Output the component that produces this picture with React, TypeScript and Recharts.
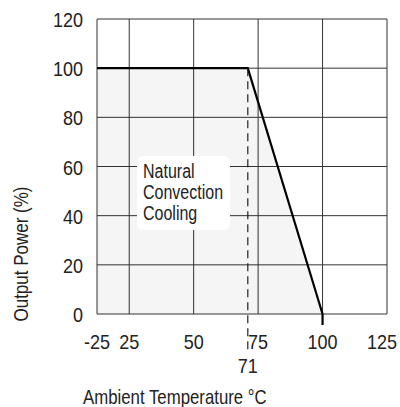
import {
  ComposedChart,
  Area,
  XAxis,
  YAxis,
  CartesianGrid,
  ReferenceLine,
} from 'recharts';

// derating curve: ambient temperature (°C) vs output power (%)
const temps = [-25, 71, 100];
const power = [100, 100, 0];
const xTicks = [-25, 25, 50, 75, 100, 125];
const yTicks = [0, 20, 40, 60, 80, 100, 120];
const kneeTicks = [71];

// the axis is broken: -25 sits half a step left of 25
const BREAK_POS = 12.5;
const axisPos = (t: number) => (t < 25 ? BREAK_POS : t);

const data = temps.map((t, i) => ({ x: axisPos(t), p: power[i] }));

const FONT = '"Liberation Sans", Arial, sans-serif';
const INK = '#222';

// no condensed face installed, so squeeze the regular one
function NarrowText({ x, y, size = 20, squeeze = 0.9, anchor = 'start', rotate = 0, children }: any) {
  return (
    <g transform={`translate(${x},${y}) rotate(${rotate}) scale(${squeeze},1)`}>
      <text x={0} y={0} textAnchor={anchor} fontSize={size} fill={INK} fontFamily={FONT}>
        {children}
      </text>
    </g>
  );
}

function XTick({ x, y, payload }: any) {
  const label = payload.value === BREAK_POS ? '-25' : String(payload.value);
  // last label is pulled in so it stays inside the page
  const last = payload.value === xTicks[xTicks.length - 1];
  return (
    <NarrowText x={last ? x + 10 : x} y={y + 27} anchor={last ? 'end' : 'middle'}>
      {label}
    </NarrowText>
  );
}

function KneeTick({ x, y, payload }: any) {
  return (
    <NarrowText x={x} y={y + 11} anchor="middle">
      {payload.value}
    </NarrowText>
  );
}

function YTick({ x, y, payload }: any) {
  return (
    <NarrowText x={x - 6} y={y + 8} anchor="end">
      {payload.value}
    </NarrowText>
  );
}

function App() {
  return (
    <div style={{ position: 'absolute', left: 0, top: 0, width: 400, height: 407 }}>
      <ComposedChart
        width={400}
        height={407}
        data={data}
        margin={{ top: 19, right: 13, bottom: 0, left: 0 }}
      >
        <CartesianGrid stroke="#333" strokeWidth={1} />
        <XAxis
          dataKey="x"
          type="number"
          domain={[BREAK_POS, 125]}
          ticks={xTicks.map(axisPos)}
          tick={<XTick />}
          tickLine={false}
          axisLine={false}
          height={40}
        />
        <XAxis
          xAxisId="knee"
          dataKey="x"
          type="number"
          domain={[BREAK_POS, 125]}
          allowDataOverflow
          ticks={kneeTicks}
          tick={<KneeTick />}
          tickLine={false}
          axisLine={false}
          height={53}
          label={{
            content: ({ viewBox }: any) => (
              <NarrowText x={viewBox.x - 14} y={viewBox.y + 50} size={20} squeeze={0.84}>
                Ambient Temperature °C
              </NarrowText>
            ),
          }}
        />
        <YAxis
          type="number"
          domain={[0, 120]}
          ticks={yTicks}
          tick={<YTick />}
          tickLine={false}
          axisLine={false}
          width={97}
          label={{
            content: () => (
              <NarrowText x={28} y={254} size={20} squeeze={0.85} rotate={-90} anchor="middle">
                Output Power (%)
              </NarrowText>
            ),
          }}
        />
        <Area
          dataKey="p"
          type="linear"
          stroke="#000"
          strokeWidth={2.2}
          fill="#000"
          fillOpacity={0.04}
          dot={false}
          activeDot={false}
          isAnimationActive={false}
        />
        <ReferenceLine
          segment={[{ x: 71, y: 100 }, { x: 71, y: -15.5 }]}
          stroke="#222"
          strokeWidth={1.2}
          strokeDasharray="8 5"
          ifOverflow="visible"
        />
        <ReferenceLine
          segment={[{ x: 100, y: 0 }, { x: 100, y: -4.5 }]}
          stroke="#000"
          strokeWidth={2.2}
          ifOverflow="visible"
        />
      </ComposedChart>
      <div
        style={{
          position: 'absolute',
          left: 137,
          top: 156,
          width: 93,
          height: 74,
          boxSizing: 'border-box',
          padding: '5px 0 0 6px',
          background: '#fff',
          borderRadius: 6,
          overflow: 'hidden',
        }}
      >
        <div
          style={{
            transform: 'scaleX(0.8)',
            transformOrigin: 'left top',
            whiteSpace: 'nowrap',
            fontFamily: FONT,
            fontSize: 20,
            lineHeight: '21px',
            color: INK,
          }}
        >
          Natural
          <br />
          Convection
          <br />
          Cooling
        </div>
      </div>
    </div>
  );
}

export default App;
